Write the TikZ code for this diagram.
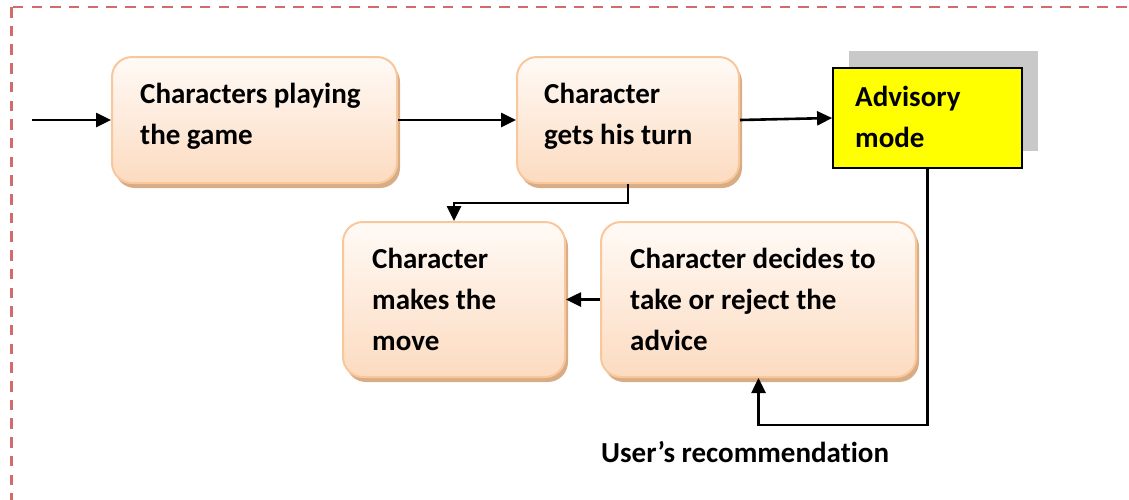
\documentclass[tikz,border=0pt]{standalone}
\usepackage{fontspec}
\setmainfont{Carlito}[Ligatures=NoCommon]
\usetikzlibrary{arrows.meta,shadows}
\definecolor{peachtop}{HTML}{FFFAF6}
\definecolor{peachbot}{HTML}{FCDBC0}
\definecolor{peachedge}{HTML}{F9C79C}
\definecolor{peachshadow}{HTML}{D8AC84}
\definecolor{framered}{HTML}{D46A6A}
\definecolor{advgray}{HTML}{C9C9C9}
\definecolor{advyellow}{HTML}{FFFF00}
\begin{document}
\begin{tikzpicture}[x=1pt,y=-1pt,
  stagebox/.style={rounded corners=20pt, draw=peachedge, line width=2pt,
    top color=peachtop, bottom color=peachbot, inner sep=0pt,
    drop shadow={shadow xshift=3pt, shadow yshift=-5pt, fill=peachshadow, opacity=1}},
  advbox/.style={draw=black, line width=1.8pt, fill=advyellow, inner sep=0pt,
    drop shadow={shadow xshift=16pt, shadow yshift=17pt, fill=advgray, opacity=1}},
  txt/.style={anchor=north west, inner sep=0pt, align=left,
    font=\fontsize{29}{41}\selectfont\bfseries},
  conn/.style={line width=2.6pt, -{Triangle[length=15pt,width=14pt]}}
]
\useasboundingbox (0,0) rectangle (1129,499);
% dashed outer frame, running past the right and bottom edges
\draw[framered, line width=2.8pt, dash pattern=on 10.5pt off 8.2pt]
  (11.5,7) rectangle (1150,520);

% stage boxes
\node[stagebox, minimum width=285pt, minimum height=126pt] (b1) at (254.5,120) {};
\node[stagebox, minimum width=222pt, minimum height=126pt] (b2) at (628,120) {};
\node[advbox, minimum width=189pt, minimum height=100pt] (adv) at (927.5,118) {};
\node[stagebox, minimum width=222pt, minimum height=155pt] (b3) at (454,299.5) {};
\node[stagebox, minimum width=315pt, minimum height=155pt] (b4) at (758.5,299.5) {};

% box texts
\node[txt] (t1) at (140,83) {Characters playing\\the game};
\node[txt] (t2) at (544,83) {Character\\gets his turn};
\node[txt] (t3) at (855,86) {Advisory\\mode};
\node[txt] (t4) at (372,248) {Character\\makes the\\move};
\node[txt] (t5) at (630,248) {Character decides to\\take or reject the\\advice};
\node[anchor=base west, inner sep=0pt, font=\fontsize{29}{41}\selectfont\bfseries]
  (rec) at (601,462) {User’s recommendation};

% connectors
\coordinate (start) at (32,120);
\draw[conn] (start) -- (b1.west);
\draw[conn] (b1.east) -- (b2.west);
\draw[conn] (b2.east) -- (adv.west);
\draw[conn] (b2.south) -- ++(0,19) -| (b3.north);
\draw[conn] (b4.west) -- (b3.east);
\draw[conn] (adv.south) -- ++(0,256) -| (b4.south);
\end{tikzpicture}
\end{document}
